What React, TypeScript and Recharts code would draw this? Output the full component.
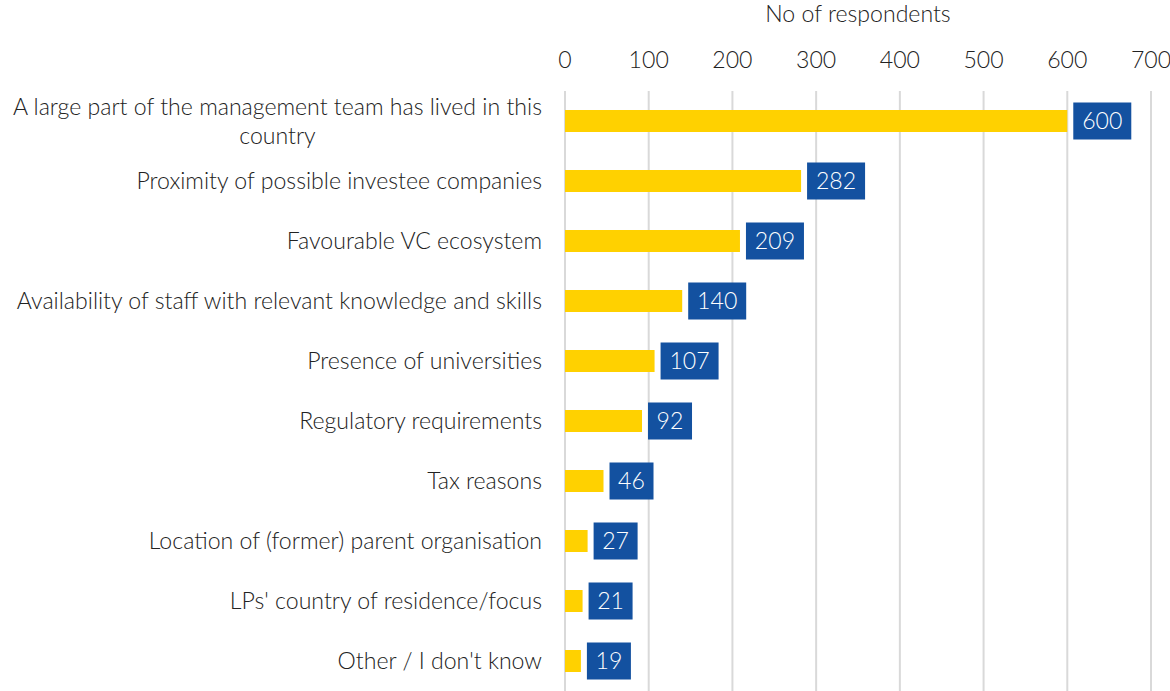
import React, { useLayoutEffect, useRef, useState } from 'react';
import { BarChart, Bar, XAxis, YAxis, CartesianGrid } from 'recharts';

const categories = [
  'A large part of the management team has lived in this\ncountry',
  'Proximity of possible investee companies',
  'Favourable VC ecosystem',
  'Availability of staff with relevant knowledge and skills',
  'Presence of universities',
  'Regulatory requirements',
  'Tax reasons',
  'Location of (former) parent organisation',
  "LPs' country of residence/focus",
  "Other / I don't know",
];
const respondents = [600, 282, 209, 140, 107, 92, 46, 27, 21, 19];
const xTicks = [0, 100, 200, 300, 400, 500, 600, 700];
const axisTitle = 'No of respondents';

const data = categories.map((name, i) => ({ name, value: respondents[i] }));

const FONT = 'Lato, "Noto Sans", sans-serif';
const FS = 23.1;
const FW = 300;
const TEXT = '#222222';
const BAR = '#FFD100';
const BOX = '#1351A0';

function CatTick(props: any) {
  const { x, y, payload } = props;
  const lines = String(payload.value).split('\n');
  const ref = useRef<SVGTextElement>(null);
  const [w, setW] = useState(0);
  useLayoutEffect(() => {
    if (lines.length > 1 && ref.current) {
      let m = 0;
      ref.current.querySelectorAll('tspan').forEach((t: any) => {
        m = Math.max(m, t.getComputedTextLength());
      });
      if (Math.abs(m - w) > 0.5) setW(m);
    }
  });
  if (lines.length === 1) {
    return (
      <text x={x} y={y} dy="0.35em" textAnchor="end" fontSize={FS} fontWeight={FW} fill={TEXT} fontFamily={FONT}>
        {lines[0]}
      </text>
    );
  }
  const cx = x - w / 2;
  const lh = 29;
  const start = y - ((lines.length - 1) * lh) / 2;
  return (
    <text ref={ref} x={cx} y={start} textAnchor="middle" fontSize={FS} fontWeight={FW} fill={TEXT} fontFamily={FONT}>
      {lines.map((l, i) => (
        <tspan key={i} x={cx} y={start + i * lh} dy="0.35em">
          {l}
        </tspan>
      ))}
    </text>
  );
}

function BoxLabel(props: any) {
  const { x, y, width, height, value } = props;
  const s = String(value);
  const bw = s.length * 14 + 16;
  const bh = 37;
  const bx = x + width + 6;
  const cy = y + height / 2;
  return (
    <g>
      <rect x={bx} y={cy - bh / 2} width={bw} height={bh} fill={BOX} />
      <text x={bx + bw / 2} y={cy} dy="0.35em" textAnchor="middle" fill="#ffffff" fontSize={FS} fontWeight={FW} fontFamily={FONT}>
        {s}
      </text>
    </g>
  );
}

export default function App() {
  return (
    <div style={{ position: 'absolute', left: 0, top: 0, background: '#fff' }}>
      <BarChart
        width={1170}
        height={691}
        data={data}
        layout="vertical"
        margin={{ top: 0, right: 19, bottom: 0, left: 0 }}
      >
        <CartesianGrid horizontal={false} stroke="#d9d9d9" strokeWidth={2} />
        <XAxis
          type="number"
          orientation="top"
          domain={[0, 700]}
          ticks={xTicks}
          axisLine={false}
          tickLine={false}
          tickSize={0}
          tickMargin={23}
          height={91}
          tick={{ fontSize: FS, fill: TEXT, fontFamily: FONT, fontWeight: FW }}
          label={{ value: axisTitle, position: 'insideTop', offset: 6, fontSize: FS, fill: TEXT, fontFamily: FONT, fontWeight: FW }}
        />
        <YAxis
          type="category"
          dataKey="name"
          width={565}
          axisLine={false}
          tickLine={false}
          tickSize={0}
          tickMargin={23}
          interval={0}
          tick={<CatTick />}
        />
        <Bar dataKey="value" fill={BAR} barSize={22} isAnimationActive={false} label={<BoxLabel />} />
      </BarChart>
    </div>
  );
}
